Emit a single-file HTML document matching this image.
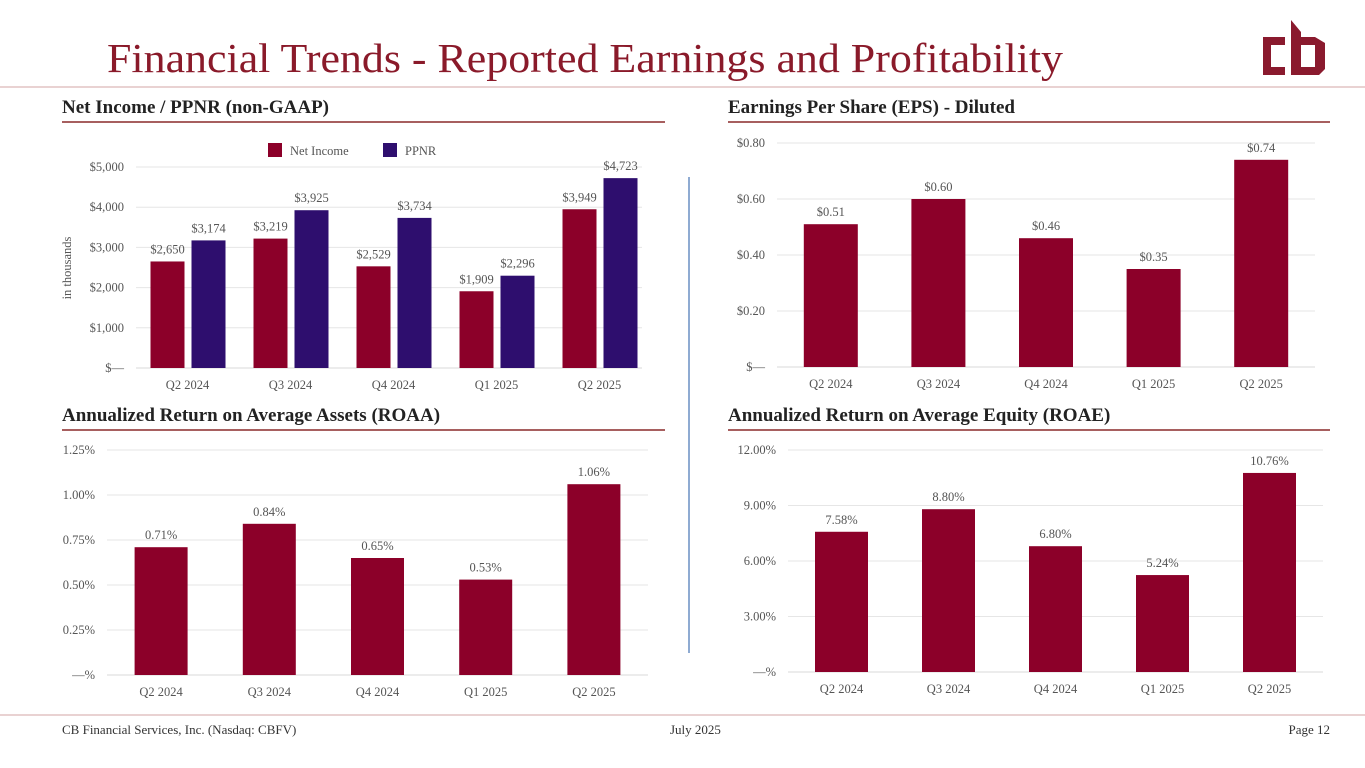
<!DOCTYPE html>
<html><head><meta charset="utf-8"><style>
body{margin:0;background:#fff;}
svg{display:block;font-family:"Liberation Serif",serif;}
</style></head><body>
<svg id="s" width="1365" height="768" viewBox="0 0 1365 768">
<line x1="0" y1="87" x2="1365" y2="87" stroke="#e2c4c4" stroke-width="1.5"/>
<text x="107" y="72" font-size="41" fill="#8a1a2a" textLength="956" lengthAdjust="spacingAndGlyphs">Financial Trends - Reported Earnings and Profitability</text>
<g fill="#8a1a2e">
<path d="M1263 37h22v8h-14v22h14v8h-22z"/>
<path d="M1291 20l10 12v5h14l10 6v26l-6 6h-28z M1301 45v22h14v-22z" fill-rule="evenodd"/>
</g>
<text x="62" y="113" font-size="19" font-weight="bold" fill="#222">Net Income / PPNR (non-GAAP)</text>
<line x1="62" y1="122" x2="665" y2="122" stroke="#8a2a2a" stroke-width="1.5"/>
<text x="728" y="113" font-size="19" font-weight="bold" fill="#222">Earnings Per Share (EPS) - Diluted</text>
<line x1="728" y1="122" x2="1330" y2="122" stroke="#8a2a2a" stroke-width="1.5"/>
<text x="62" y="421" font-size="19" font-weight="bold" fill="#222">Annualized Return on Average Assets (ROAA)</text>
<line x1="62" y1="430" x2="665" y2="430" stroke="#8a2a2a" stroke-width="1.5"/>
<text x="728" y="421" font-size="19" font-weight="bold" fill="#222">Annualized Return on Average Equity (ROAE)</text>
<line x1="728" y1="430" x2="1330" y2="430" stroke="#8a2a2a" stroke-width="1.5"/>
<line x1="689" y1="177" x2="689" y2="653" stroke="#6a8fc4" stroke-width="1.5"/>
<line x1="0" y1="715" x2="1365" y2="715" stroke="#e2c4c4" stroke-width="1.5"/>
<text x="62" y="734" font-size="13" fill="#333">CB Financial Services, Inc. (Nasdaq: CBFV)</text>
<text x="670" y="734" font-size="13" fill="#333">July 2025</text>
<text x="1330" y="734" font-size="13" fill="#333" text-anchor="end">Page 12</text>
<g id="charts"></g>
</svg>
<script>
const categories = ["Q2 2024","Q3 2024","Q4 2024","Q1 2025","Q2 2025"];
const netIncome = [2650,3219,2529,1909,3949];
const ppnr = [3174,3925,3734,2296,4723];
const niTicks = [0,1000,2000,3000,4000,5000];
const eps = [0.51,0.60,0.46,0.35,0.74];
const epsTicks = [0,0.2,0.4,0.6,0.8];
const roaa = [0.71,0.84,0.65,0.53,1.06];
const roaaTicks = [0,0.25,0.5,0.75,1.0,1.25];
const roae = [7.58,8.80,6.80,5.24,10.76];
const roaeTicks = [0,3,6,9,12];

const NS="http://www.w3.org/2000/svg";
const G=document.getElementById('charts');
const RED="#8c0029", PUR="#2e0e6e";
function mk(tag,attrs,parent){const e=document.createElementNS(NS,tag);for(const k in attrs)e.setAttribute(k,attrs[k]);(parent||G).appendChild(e);return e;}
function txt(x,y,s,size,anchor,parent){const t=mk('text',{x:x,y:y,'font-size':size,fill:'#555','text-anchor':anchor},parent);t.textContent=s;return t;}

function chart(o){
  const g=mk('g',{});
  
  
  const max=o.ticks[o.ticks.length-1];
  const y=v=>o.y0-(v/max)*(o.y0-o.y1);
  const step=(o.x1-o.x0)/categories.length;
  const cx=i=>o.x0+step*(i+0.5);
  const gEnd=o.gridEnd||o.x1;
  o.ticks.forEach(t=>{
    const l=mk('line',{x1:o.x0,x2:gEnd,y1:y(t),y2:y(t),stroke:t===0?'#d9d9d9':'#e6e6e6','stroke-width':1},g);
    
    
    const lb=txt(o.x0-12,y(t)+4,o.tickFmt(t),12.5,'end',g);
    
    
  });
  categories.forEach((c,i)=>{
    const lb=txt(cx(i),o.y0+21,c,12.5,'middle',g);
    
    
  });
  o.series.forEach((s,si)=>{
    s.values.forEach((v,i)=>{
      const bx=cx(i)+s.off-o.bw/2;
      const r=mk('rect',{x:bx,y:y(v),width:o.bw,height:o.y0-y(v),fill:s.color},g);
      
      
      const lb=txt(bx+o.bw/2,y(v)-8,o.valFmt(v),12.5,'middle',g);
      
      
    });
  });
  return g;
}
const money=v=>v===0?'$—':'$'+v.toLocaleString('en-US');
chart({name:'net-income-chart',x0:136,x1:651,gridEnd:642,y0:368,y1:167,ticks:niTicks,bw:34,tickFmt:money,valFmt:money,
  series:[{key:'net-income',values:netIncome,color:RED,off:-20},{key:'ppnr',values:ppnr,color:PUR,off:21}]});
chart({name:'eps-chart',x0:777,x1:1315,y0:367,y1:143,ticks:epsTicks,bw:54,
  tickFmt:v=>v===0?'$—':'$'+v.toFixed(2),valFmt:v=>'$'+v.toFixed(2),series:[{key:'eps',values:eps,color:RED,off:0}]});
chart({name:'roaa-chart',x0:107,x1:648,y0:675,y1:450,ticks:roaaTicks,bw:53,
  tickFmt:v=>v===0?'—%':v.toFixed(2)+'%',valFmt:v=>v.toFixed(2)+'%',series:[{key:'roaa',values:roaa,color:RED,off:0}]});
chart({name:'roae-chart',x0:788,x1:1323,y0:672,y1:450,ticks:roaeTicks,bw:53,
  tickFmt:v=>v===0?'—%':v.toFixed(2)+'%',valFmt:v=>v.toFixed(2)+'%',series:[{key:'roae',values:roae,color:RED,off:0}]});

const lg=mk('g',{});


mk('rect',{x:268,y:143,width:14,height:14,fill:RED},lg);
txt(290,155,'Net Income',12.5,'start',lg);
mk('rect',{x:383,y:143,width:14,height:14,fill:PUR},lg);
txt(405,155,'PPNR',12.5,'start',lg);
const yt=mk('text',{x:0,y:0,'font-size':12.5,fill:'#555','text-anchor':'middle',transform:'translate(71,268) rotate(-90)'});
yt.textContent='in thousands';


</script>
</body></html>
